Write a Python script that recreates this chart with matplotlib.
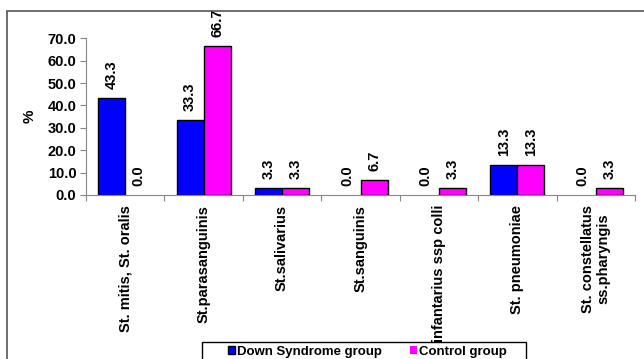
import numpy as np
import matplotlib
matplotlib.use('Agg')
from matplotlib import pyplot as plt
from matplotlib.patches import Rectangle

# data
categories = ['St. mitis, St. oralis', 'St.parasanguinis', 'St.salivarius',
              'St.sanguinis', 'infantarius ssp colli', 'St. pneumoniae',
              'St. constellatus\nss.pharyngis']
down_syndrome = [43.3, 33.3, 3.3, 0.0, 0.0, 13.3, 0.0]
control = [0.0, 66.7, 3.3, 6.7, 3.3, 13.3, 3.3]
series_names = ['Down Syndrome group', 'Control group']

plt.rcParams['font.family'] = ['Liberation Sans', 'DejaVu Sans']
plt.rcParams['font.weight'] = 'bold'
plt.rcParams['font.size'] = 10.5

fig = plt.figure(figsize=(6.44, 3.59), dpi=100)
ax = fig.add_axes([86 / 644, 1 - 195 / 359, 549 / 644, (195 - 38.3) / 359])

# outer chart border (clipped at right and bottom like the original)
fig.patches.append(Rectangle((7 / 644, -0.1), 1.2, 1.1 - 11 / 359,
                             transform=fig.transFigure, fill=False,
                             edgecolor='#555555', linewidth=1.2))

x = np.arange(len(categories))
w = 0.345
b1 = ax.bar(x - w / 2, down_syndrome, w, color='#0000FF', edgecolor='black',
            linewidth=1, label=series_names[0])
b2 = ax.bar(x + w / 2, control, w, color='#FF00FF', edgecolor='black',
            linewidth=1, label=series_names[1])

for bars in (b1, b2):
    for p in bars.patches:
        if p.get_height() == 0:
            p.set_linewidth(0)
    ax.bar_label(bars, fmt='%.1f', rotation=90, padding=6.5,
                 fontsize=10.5, fontweight='bold')

ax.set_xlim(-0.5, len(categories) - 0.5)
ax.set_ylim(0, 70)
ax.set_yticks(np.arange(0, 71, 10))
ax.set_yticklabels(['%.1f' % v for v in np.arange(0, 71, 10)])
ax.set_ylabel('%', fontsize=11, fontweight='bold', labelpad=8)

# category labels between separator ticks
ax.set_xticks(np.arange(-0.5, len(categories), 1))
ax.set_xticklabels([])
ax.set_xticks(x, minor=True)
ax.set_xticklabels(categories, minor=True, rotation=90, va='top',
                   ha='center', multialignment='center')
ax.tick_params(axis='x', which='minor', length=0, pad=7)
ax.tick_params(axis='x', which='major', length=4, color='#888888')
ax.tick_params(axis='y', length=4, color='#888888', pad=3)

for s in ('top', 'right'):
    ax.spines[s].set_visible(False)
for s in ('left', 'bottom'):
    ax.spines[s].set_color('#888888')

# legend box, clipped at the bottom edge like the original
fig.patches.append(Rectangle((202 / 644, -0.1), 324 / 644, 0.1 + 17 / 359,
                             transform=fig.transFigure, fill=False,
                             edgecolor='black', linewidth=1))
leg = fig.legend(loc='center left', bbox_to_anchor=(228 / 644, 1 - 352 / 359),
                 ncol=2, frameon=False,
                 handlelength=0.55, handleheight=0.55, handletextpad=0.15,
                 columnspacing=2.1, borderpad=0, borderaxespad=0,
                 fontsize=9.5)

fig.savefig('out.png', dpi=100)
